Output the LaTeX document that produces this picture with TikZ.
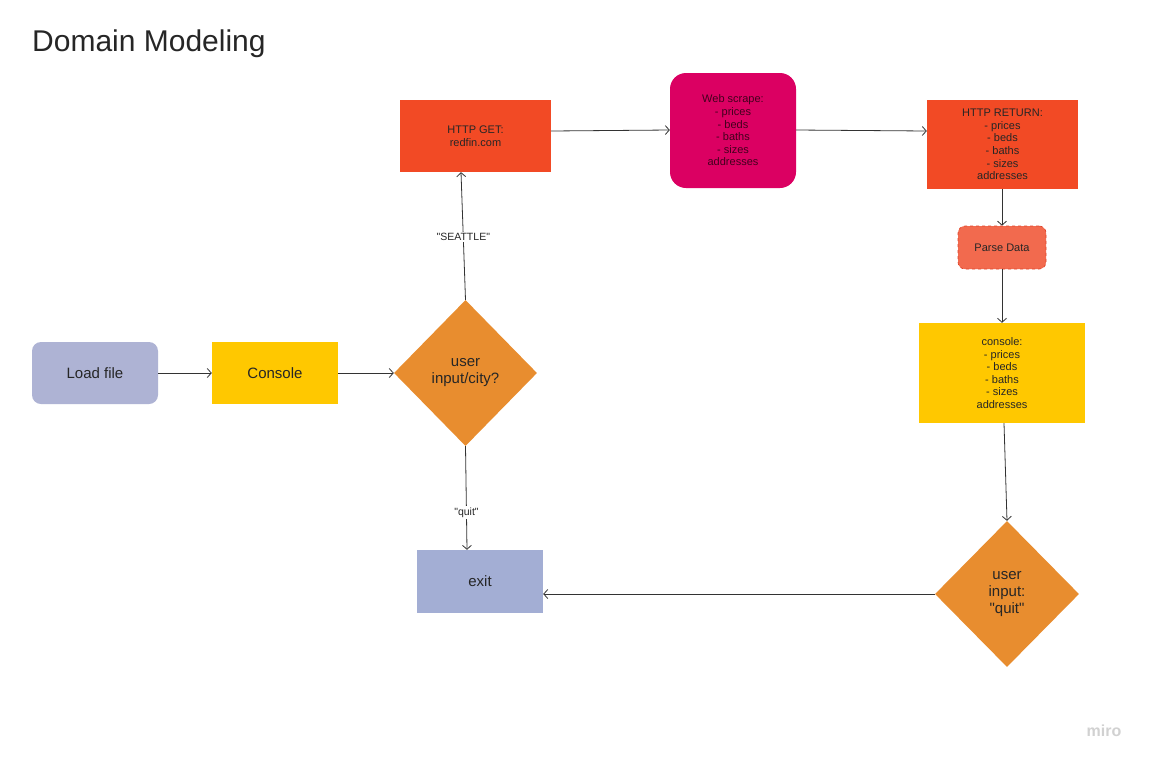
\documentclass[tikz,border=0pt]{standalone}
\usepackage{fontspec}
\setmainfont{Liberation Sans}[Ligatures=TeXOff]
\usetikzlibrary{arrows.meta,shapes.geometric}
\definecolor{redbox}{HTML}{F24A25}
\definecolor{pinkbox}{HTML}{DB0062}
\definecolor{orangebox}{HTML}{E88D2F}
\definecolor{yellowbox}{HTML}{FFC800}
\definecolor{lavbox}{HTML}{AEB3D4}
\definecolor{exitbox}{HTML}{A3AED4}
\definecolor{parsebox}{HTML}{F26A4E}
\definecolor{parseline}{HTML}{E0442A}
\definecolor{linec}{HTML}{333333}
\tikzset{
  base/.style={inner sep=2pt, align=center, text=black!85},
  smalltxt/.style={font=\fontsize{11}{12.6}\selectfont},
  bigtxt/.style={font=\fontsize{15}{17}\selectfont},
  flow/.style={draw=linec, line width=0.8pt, -{Straight Barb[length=4pt,width=9pt]}},
  lbl/.style={fill=white, inner sep=1.5pt, font=\fontsize{10.5}{12}\selectfont, text=black!85},
  dia/.style={base, diamond, fill=orangebox, inner sep=0pt, bigtxt}
}
\begin{document}
\begin{tikzpicture}[x=1pt,y=-1pt]
\useasboundingbox[fill=white] (0,0) rectangle (1149,764);
\node[anchor=base west, inner sep=0pt, font=\fontsize{30}{33}\selectfont, text=black!85] (title) at (32,51) {Domain Modeling};

\node[base, bigtxt, fill=lavbox, rounded corners=9pt, minimum width=126pt, minimum height=62pt] (load) at (95,373) {Load file};
\node[base, bigtxt, fill=yellowbox, minimum width=126pt, minimum height=62pt] (console) at (275,373) {Console};
\node[dia, minimum width=143pt, minimum height=146pt] (city) at (465.5,373) {user\\input/city?};
\node[base, smalltxt, fill=redbox, minimum width=151pt, minimum height=72pt] (get) at (475.5,136) {HTTP GET:\\redfin.com};
\node[base, smalltxt, fill=pinkbox, rounded corners=16pt, minimum width=126pt, minimum height=115pt, text=black!70!pinkbox] (scrape) at (733,130.5) {Web scrape:\\- prices\\- beds\\- baths\\- sizes\\addresses};
\node[base, smalltxt, fill=redbox, minimum width=151pt, minimum height=89pt] (ret) at (1002.5,144.5) {HTTP RETURN:\\- prices\\- beds\\- baths\\- sizes\\addresses};
\node[base, smalltxt, fill=parsebox, draw=parseline, dashed, line width=0.7pt, rounded corners=7pt, minimum width=88pt, minimum height=43pt] (parse) at (1002,247.5) {Parse Data};
\node[base, smalltxt, fill=yellowbox, minimum width=166pt, minimum height=100pt] (cons2) at (1002,373) {console:\\- prices\\- beds\\- baths\\- sizes\\addresses};
\node[dia, minimum width=144pt, minimum height=146pt] (quitq) at (1007,594) {user\\input:\\"quit"};
\node[base, bigtxt, fill=exitbox, minimum width=126pt, minimum height=63pt] (exit) at (480,581.5) {exit};

\draw[flow] (load.east) -- (console.west);
\draw[flow] (console.east) -- (city.west);
\draw[flow] (city.north) -- node[lbl, pos=0.49] {"SEATTLE"} (get.south -| 461,0);
\draw[flow] (city.south) -- node[lbl, pos=0.64] {"quit"} (exit.north -| 467,0);
\draw[flow] (get.east |- 0,131) -- (scrape.west |- 0,130);
\draw[flow] (scrape.east |- 0,130) -- (ret.west |- 0,131);
\draw[flow] (ret.south -| 1002,0) -- (parse.north);
\draw[flow] (parse.south) -- (cons2.north);
\draw[flow] (cons2.south -| 1004,0) -- (quitq.north);
\draw[flow] (quitq.west) -- (740,594) -- (exit.east |- 0,594);

\node[font=\bfseries\fontsize{16}{18}\selectfont, text=black!18] (miro) at (1104,731) {miro};
\end{tikzpicture}
\end{document}
